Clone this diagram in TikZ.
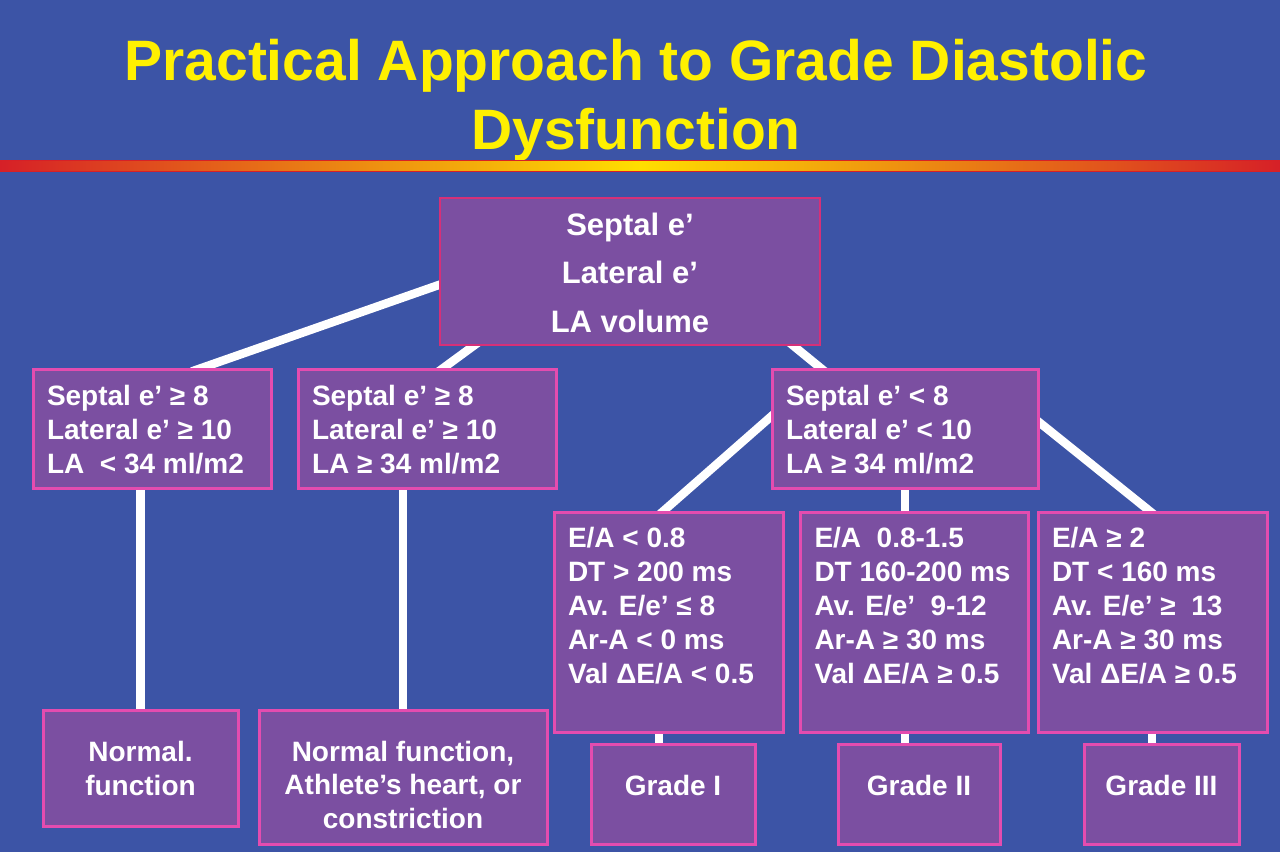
\documentclass[tikz,border=0pt]{standalone}
\usepackage{fontspec}
\setmainfont{Liberation Sans}
\usetikzlibrary{backgrounds}
\definecolor{bgblue}{RGB}{60,84,166}
\definecolor{boxfill}{RGB}{123,79,161}
\definecolor{boxpink}{RGB}{228,76,175}
\definecolor{topred}{RGB}{214,48,120}
\definecolor{titleyellow}{RGB}{255,240,0}
\definecolor{barred}{RGB}{214,32,39}
\definecolor{baryellow}{RGB}{255,222,0}
% left-aligned box text: width, height, first baseline, baselineskip, text
\newcommand\lbt[5]{\parbox[c][#2pt][t]{#1pt}{\fontsize{28}{#4}\selectfont\raggedright\rule{0pt}{#3pt}#5}}
% centred box text: width, height, first baseline, baselineskip, size, text
\newcommand\cbt[6]{\parbox[c][#2pt][t]{#1pt}{\fontsize{#5}{#4}\selectfont\centering\rule{0pt}{#3pt}#6}}
\begin{document}
\begin{tikzpicture}[x=1pt,y=-1pt,
  box/.style={draw=boxpink, line width=3pt, fill=boxfill, inner sep=0pt, text=white, font=\bfseries},
  topbox/.style={box, draw=topred, line width=2.5pt},
  conn/.style={draw=white, line width=8.5pt, shorten <=-12pt, shorten >=-12pt}]
\useasboundingbox (0,0) rectangle (1280,852);

% title
\node[font=\bfseries\fontsize{57}{69}\selectfont, text=titleyellow, align=center, inner sep=0pt, anchor=north] (title) at (636,38.5)
  {Practical Approach to Grade Diastolic\\Dysfunction};

% gradient bar
\shade[left color=barred, right color=baryellow] (0,161) rectangle (640,171);
\shade[left color=baryellow, right color=barred] (640,161) rectangle (1280,171);
\draw[barred, line width=1.5pt] (0,160.5) -- (1280,160.5) (0,171.5) -- (1280,171.5);

% boxes
\node[topbox, minimum width=380pt, minimum height=147pt] (T) at (630,271.5)
  {\cbt{352}{147}{37}{48.5}{31}{Septal e’\\Lateral e’\\LA volume}};

\node[box, minimum width=238pt, minimum height=119pt] (A) at (152,428.5)
  {\lbt{210}{119}{36}{34}{Septal e’ ≥ 8\\Lateral e’ ≥ 10\\LA \ < 34 ml/m2}};
\node[box, minimum width=258pt, minimum height=119pt] (B) at (427,428.5)
  {\lbt{230}{119}{36}{34}{Septal e’ ≥ 8\\Lateral e’ ≥ 10\\LA ≥ 34 ml/m2}};
\node[box, minimum width=266pt, minimum height=119pt] (C) at (905,428.5)
  {\lbt{238}{119}{36}{34}{Septal e’ < 8\\Lateral e’ < 10\\LA ≥ 34 ml/m2}};

\node[box, minimum width=229pt, minimum height=220pt] (D) at (668.5,622)
  {\lbt{201}{220}{35}{34}{E/A < 0.8\\DT > 200 ms\\Av. E/e’ ≤ 8\\Ar-A < 0 ms\\Val ΔE/A < 0.5}};
\node[box, minimum width=228pt, minimum height=220pt] (E) at (914.5,622)
  {\lbt{200}{220}{35}{34}{E/A \ 0.8-1.5\\DT 160-200 ms\\Av. E/e’ \ 9-12\\Ar-A ≥ 30 ms\\Val ΔE/A ≥ 0.5}};
\node[box, minimum width=229pt, minimum height=220pt] (F) at (1152.5,622)
  {\lbt{201}{220}{35}{34}{E/A ≥ 2\\DT < 160 ms\\Av. E/e’ ≥ \ 13\\Ar-A ≥ 30 ms\\Val ΔE/A ≥ 0.5}};

\node[box, minimum width=195pt, minimum height=116pt] (N1) at (140.5,768)
  {\cbt{180}{116}{51}{34}{28}{Normal.\\function}};
\node[box, minimum width=288pt, minimum height=134pt] (N2) at (403,777)
  {\cbt{274}{134}{51}{33.5}{28}{Normal function,\\Athlete’s heart, or\\constriction}};

\node[box, minimum width=164pt, minimum height=100pt] (G1) at (673,794)
  {\cbt{150}{100}{51}{34}{28}{Grade I}};
\node[box, minimum width=162pt, minimum height=100pt] (G2) at (919,794)
  {\cbt{150}{100}{51}{34}{28}{Grade II}};
\node[box, minimum width=155pt, minimum height=100pt] (G3) at (1161.5,794)
  {\cbt{145}{100}{51}{34}{28}{Grade III}};

\begin{pgfonlayer}{background}
\fill[bgblue] (0,0) rectangle (1280,852);
\draw[conn] ([yshift=-13.5pt]T.west) -- ([xshift=51pt]A.north);
\draw[conn] ([xshift=-157pt]T.south) -- ([xshift=17pt]B.north);
\draw[conn] ([xshift=164pt]T.south) -- ([xshift=-85pt]C.north);
\draw[conn] ([yshift=11.5pt]C.west) -- ([xshift=-4.5pt]D.north);
\draw[conn] (C.south) -- (C.south |- E.north);
\draw[conn] ([yshift=6pt]C.east) -- ([xshift=-3.5pt]F.north);
\draw[conn] (N1.north |- A.south) -- (N1.north);
\draw[conn] (N2.north |- B.south) -- (N2.north);
\draw[conn] ([xshift=-14pt]G1.north |- D.south) -- ([xshift=-14pt]G1.north);
\draw[conn] ([xshift=-14pt]G2.north |- E.south) -- ([xshift=-14pt]G2.north);
\draw[conn] ([xshift=-9.5pt]G3.north |- F.south) -- ([xshift=-9.5pt]G3.north);
\end{pgfonlayer}
\end{tikzpicture}
\end{document}
